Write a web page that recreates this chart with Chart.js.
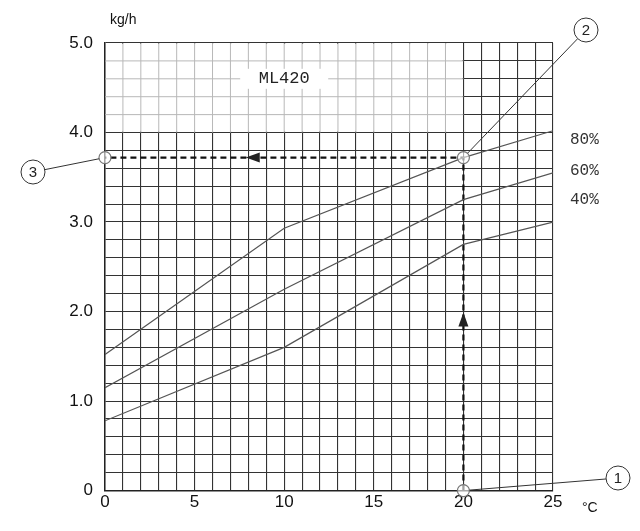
<!DOCTYPE html>
<html>
<head>
<script src="https://cdn.jsdelivr.net/npm/chart.js@4"></script>
<style>
  body { margin: 0; background: #fff; }
  #wrap { width: 640px; height: 531px; }
</style>
</head>
<body>
<div id="wrap"><canvas id="c" width="640" height="531"></canvas></div>
<script>
// Температура, °C (точки излома кривых)
const temps = [0, 10, 20, 25];
// Производительность, kg/h
const rh80 = [1.52, 2.93, 3.72, 4.02];
const rh60 = [1.15, 2.25, 3.25, 3.55];
const rh40 = [0.78, 1.6, 2.75, 3.0];
const seriesLabels = ["80%", "60%", "40%"];
// Пример чтения графика: 20 °C -> 3.72 kg/h
const readPath = [
  { x: 20, y: 0 },
  { x: 20, y: 3.72 },
  { x: 0, y: 3.72 },
];

const toPts = (ys) => ys.map((y, i) => ({ x: temps[i], y: y }));

// Плагин: светлая сетка, подписи, выноски и стрелки
const decor = {
  id: "decor",
  beforeDatasetsDraw(chart) {
    const { ctx, scales } = chart;
    const x = scales.x, y = scales.y;
    const l = x.getPixelForValue(0), r = x.getPixelForValue(20);
    const t = y.getPixelForValue(5), b = y.getPixelForValue(4);
    ctx.save();
    ctx.fillStyle = "#fff";
    ctx.fillRect(l + 1, t + 1, r - l - 2, b - t - 2);
    ctx.strokeStyle = "#b8b8b8";
    ctx.lineWidth = 1;
    for (let v = 1; v < 20; v++) {
      const px = x.getPixelForValue(v);
      ctx.beginPath(); ctx.moveTo(px, t); ctx.lineTo(px, b); ctx.stroke();
    }
    for (let v = 4.2; v < 4.95; v += 0.2) {
      const py = y.getPixelForValue(v);
      ctx.beginPath(); ctx.moveTo(l, py); ctx.lineTo(r, py); ctx.stroke();
    }
    // ML420
    ctx.font = "17px 'Liberation Mono'";
    ctx.textAlign = "center";
    ctx.textBaseline = "middle";
    const mx = x.getPixelForValue(10), my = y.getPixelForValue(4.6);
    ctx.fillStyle = "#fff";
    ctx.fillRect(mx - 44, my - 10, 88, 20);
    ctx.fillStyle = "#222";
    ctx.fillText("ML420", mx, my);
    ctx.restore();
  },
  afterDatasetsDraw(chart) {
    const { ctx, scales } = chart;
    const x = scales.x, y = scales.y;
    ctx.save();
    ctx.strokeStyle = "#222";
    ctx.fillStyle = "#222";
    // стрелки
    const arrow = (vx, vy, dir) => {
      const px = x.getPixelForValue(vx), py = y.getPixelForValue(vy);
      ctx.beginPath();
      if (dir === "up") {
        ctx.moveTo(px, py - 8); ctx.lineTo(px - 5, py + 6); ctx.lineTo(px + 5, py + 6);
      } else {
        ctx.moveTo(px - 8, py); ctx.lineTo(px + 6, py - 5); ctx.lineTo(px + 6, py + 5);
      }
      ctx.fill();
    };
    arrow(20, 1.9, "up");
    arrow(8.3, 3.72, "left");
    // кольца на точках
    ctx.strokeStyle = "#777";
    ctx.lineWidth = 1.2;
    readPath.forEach((p) => {
      ctx.beginPath();
      ctx.arc(x.getPixelForValue(p.x), y.getPixelForValue(p.y), 6, 0, Math.PI * 2);
      ctx.fillStyle = "rgba(255,255,255,0.6)";
      ctx.fill();
      ctx.stroke();
    });
    // выноски с номерами
    const callouts = [
      { p: readPath[0], cx: 618, cy: 478, n: "1" },
      { p: readPath[1], cx: 586, cy: 30, n: "2" },
      { p: readPath[2], cx: 33, cy: 172, n: "3" },
    ];
    ctx.font = "15px 'Liberation Sans'";
    ctx.textAlign = "center";
    ctx.textBaseline = "middle";
    callouts.forEach((c) => {
      const px = x.getPixelForValue(c.p.x), py = y.getPixelForValue(c.p.y);
      const ang = Math.atan2(c.cy - py, c.cx - px);
      ctx.strokeStyle = "#333";
      ctx.lineWidth = 1;
      ctx.beginPath();
      ctx.moveTo(px + Math.cos(ang) * 6, py + Math.sin(ang) * 6);
      ctx.lineTo(c.cx - Math.cos(ang) * 12, c.cy - Math.sin(ang) * 12);
      ctx.stroke();
      ctx.beginPath();
      ctx.arc(c.cx, c.cy, 12, 0, Math.PI * 2);
      ctx.fillStyle = "#fff";
      ctx.fill();
      ctx.stroke();
      ctx.fillStyle = "#222";
      ctx.fillText(c.n, c.cx, c.cy + 1);
    });
    // подписи серий
    ctx.font = "16px 'Liberation Mono'";
    ctx.textAlign = "left";
    ctx.fillStyle = "#333";
    ctx.fillText(seriesLabels[0], 570, 140);
    ctx.fillText(seriesLabels[1], 570, 171);
    ctx.fillText(seriesLabels[2], 570, 200);
    // единицы
    ctx.font = "14px 'Liberation Sans'";
    ctx.fillStyle = "#111";
    ctx.fillText("kg/h", 110, 20);
    ctx.fillText("°C", 582, 508);
    ctx.restore();
  },
};

const lineStyle = {
  borderColor: "#555",
  borderWidth: 1.2,
  pointRadius: 0,
  fill: false,
  tension: 0,
};

new Chart(document.getElementById("c").getContext("2d"), {
  type: "line",
  data: {
    datasets: [
      { label: seriesLabels[0], data: toPts(rh80), ...lineStyle },
      { label: seriesLabels[1], data: toPts(rh60), ...lineStyle },
      { label: seriesLabels[2], data: toPts(rh40), ...lineStyle },
      {
        label: "path",
        data: readPath,
        borderColor: "#111",
        borderWidth: 2.2,
        borderDash: [6, 4],
        pointRadius: 0,
        fill: false,
      },
    ],
  },
  options: {
    responsive: false,
    animation: false,
    layout: { padding: { left: 0, right: 87, top: 43, bottom: 16 } },
    plugins: { legend: { display: false }, tooltip: { enabled: false } },
    scales: {
      x: {
        type: "linear",
        min: 0,
        max: 25,
        ticks: {
          stepSize: 1,
          autoSkip: false,
          maxRotation: 0,
          color: "#111",
          font: { family: "Liberation Sans", size: 17 },
          padding: 2,
          callback: (v) => (v % 5 === 0 ? String(v) : ""),
        },
        grid: { color: "#333", lineWidth: 1.1, drawTicks: false },
        border: { color: "#222", width: 1.5 },
      },
      y: {
        min: 0,
        max: 5,
        afterFit: (s) => { s.width = 105; },
        ticks: {
          stepSize: 0.2,
          autoSkip: false,
          color: "#111",
          font: { family: "Liberation Sans", size: 17 },
          padding: 12,
          callback: (v) => {
            const r = Math.round(v * 10) / 10;
            if (Math.abs(r - Math.round(r)) > 1e-6) return "";
            return r === 0 ? "0" : r.toFixed(1);
          },
        },
        grid: { color: "#333", lineWidth: 1.1, drawTicks: false },
        border: { color: "#222", width: 1.5 },
      },
    },
  },
  plugins: [decor],
});
</script>
</body>
</html>
